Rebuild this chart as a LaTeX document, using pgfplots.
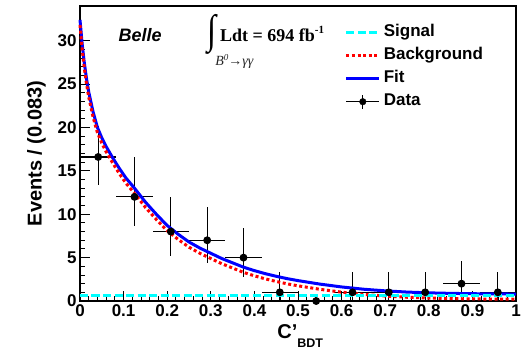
\documentclass[border=0pt]{standalone}
\usepackage{pgfplots}
\pgfplotsset{compat=1.18}
\usepackage{pgfplotstable}
\usepackage{graphicx}
\usepackage{fontspec}
\setmainfont{Liberation Sans}
\newfontfamily\timesfont{Liberation Serif}
\definecolor{rcyan}{RGB}{0,255,255}
\definecolor{rred}{RGB}{255,0,0}
\definecolor{rblue}{RGB}{0,0,255}

\pgfplotstableread{
x y ex eyp eym
0.0417 16.6 0.0417 3.6 3.2
0.1250 12 0.0417 4.6 3.4
0.2083 8 0.0417 4.0 2.8
0.2917 7 0.0417 3.8 2.6
0.3750 5 0.0417 3.4 2.2
0.4583 1 0.0417 2.3 0.83
0.5417 0 0 0 0
0.6250 1 0.0417 2.3 0.83
0.7083 1 0.0417 2.3 0.83
0.7917 1 0.0417 2.3 0.83
0.8750 2 0.0417 2.64 1.29
0.9583 1 0.0417 2.3 0.83
}\datatable

\pgfplotstableread{
x fit bg
0.000 32.4 31.8
0.005 29.6 29.0
0.010 27.4 26.8
0.015 25.6 25.0
0.020 24.1 23.5
0.030 21.8 21.2
0.040 20.0 19.4
0.050 18.8 18.2
0.060 17.8 17.2
0.075 16.5 15.9
0.090 15.3 14.7
0.105 14.2 13.6
0.125 13.0 12.4
0.150 11.4 10.8
0.175 10.0 9.4
0.200 8.7 8.1
0.225 7.7 7.1
0.250 6.8 6.2
0.275 6.1 5.5
0.300 5.5 4.9
0.325 4.9 4.3
0.350 4.4 3.8
0.375 3.9 3.3
0.400 3.5 2.9
0.425 3.15 2.55
0.450 2.85 2.25
0.475 2.58 1.98
0.500 2.35 1.75
0.550 1.95 1.35
0.600 1.62 1.02
0.650 1.36 0.76
0.700 1.17 0.57
0.750 1.03 0.43
0.800 0.94 0.34
0.850 0.88 0.28
0.900 0.84 0.24
0.950 0.82 0.22
1.000 0.80 0.20
}\fittable

\begin{document}
\begin{tikzpicture}
\path[use as bounding box] (-80pt,-56pt) rectangle (442pt,301pt);
\begin{axis}[
  at={(0pt,0pt)}, anchor=south west,
  scale only axis, width=436pt, height=295pt,
  xmin=0, xmax=1, ymin=0, ymax=34,
  clip=false,
  xtick={0,0.1,0.2,0.3,0.4,0.5,0.6,0.7,0.8,0.9,1},
  xticklabels={0,0.1,0.2,0.3,0.4,0.5,0.6,0.7,0.8,0.9,1},
  ytick={0,5,10,15,20,25,30},
  minor x tick num=4, minor y tick num=4,
  xtick pos=bottom, ytick pos=left,
  tick align=inside,
  major tick length=10pt, minor tick length=5pt,
  every tick/.style={black, line width=0.9pt},
  axis line style={line width=1.1pt},
  /pgf/number format/assume math mode=true,
  tick label style={font=\fontsize{17}{17}\selectfont\bfseries},
  ylabel={Events / (0.083)},
  ylabel style={at={(axis description cs:-0.1,0.5)}, anchor=center, font=\fontsize{20}{20}\selectfont\bfseries},
  xlabel={C'\raisebox{-9pt}{\fontsize{12.5}{12.5}\selectfont BDT}},
  xlabel style={at={(axis description cs:0.505,0)}, anchor=north, yshift=-23pt, font=\fontsize{20}{20}\selectfont\bfseries, inner sep=0pt},
  legend style={at={(axis cs:0.6,32.5)}, anchor=north west, draw=none, fill=none,
    font=\fontsize{17}{17}\selectfont\bfseries,
    nodes={text height=12.5pt, text depth=4.5pt, inner sep=3pt}},
  legend cell align=left,
]
\addplot[black, line width=1.2pt, mark=*, mark size=3.3pt, only marks, forget plot,
  error bars/.cd, x dir=both, x explicit, y dir=both, y explicit,
  error mark=none, error bar style={line width=1.2pt, black}]
  table[x=x, y=y, x error=ex, y error plus=eyp, y error minus=eym] {\datatable};
\addplot[rblue, line width=3pt, forget plot] table[x=x, y=fit] {\fittable};
\addplot[rred, line width=3pt, dash pattern=on 3pt off 2.6pt, forget plot] table[x=x, y=bg] {\fittable};
\addplot[rcyan, line width=3pt, dash pattern=on 8pt off 3.5pt, forget plot] coordinates {(0,0.6) (1,0.6)};

\addlegendimage{legend image code/.code={\draw[rcyan, line width=3pt, dash pattern=on 8pt off 3.5pt] (0pt,0pt) -- (33pt,0pt);}}
\addlegendentry{Signal}
\addlegendimage{legend image code/.code={\draw[rred, line width=3pt, dash pattern=on 3pt off 2.6pt] (0pt,0pt) -- (33pt,0pt);}}
\addlegendentry{Background}
\addlegendimage{legend image code/.code={\draw[rblue, line width=3pt] (0pt,0pt) -- (33pt,0pt);}}
\addlegendentry{Fit}
\addlegendimage{legend image code/.code={\draw[black, line width=1.2pt] (0pt,0pt) -- (33pt,0pt); \draw[black, line width=1.2pt] (16.5pt,-7pt) -- (16.5pt,7pt); \fill[black] (16.5pt,0pt) circle (3.3pt);}}
\addlegendentry{Data}

\node[font=\fontsize{18}{18}\selectfont\bfseries\itshape] at (axis cs:0.138,30.7) {Belle};
\node[inner sep=0pt] at (axis cs:0.303,30.7) {\resizebox*{9pt}{40pt}{\timesfont\bfseries ∫}};
\node[anchor=base west, inner sep=0pt, font=\timesfont\bfseries\fontsize{18}{18}\selectfont] at (axis cs:0.321,29.9) {Ldt = 694 fb\raisebox{8pt}{\fontsize{11}{11}\selectfont -1}};
\node[anchor=west, inner sep=0pt, text=black!85, font=\timesfont\itshape\fontsize{14}{14}\selectfont] at (axis cs:0.310,27.6) {B\raisebox{5pt}{\fontsize{9}{9}\selectfont 0}→γγ};
\end{axis}
\end{tikzpicture}
\end{document}
